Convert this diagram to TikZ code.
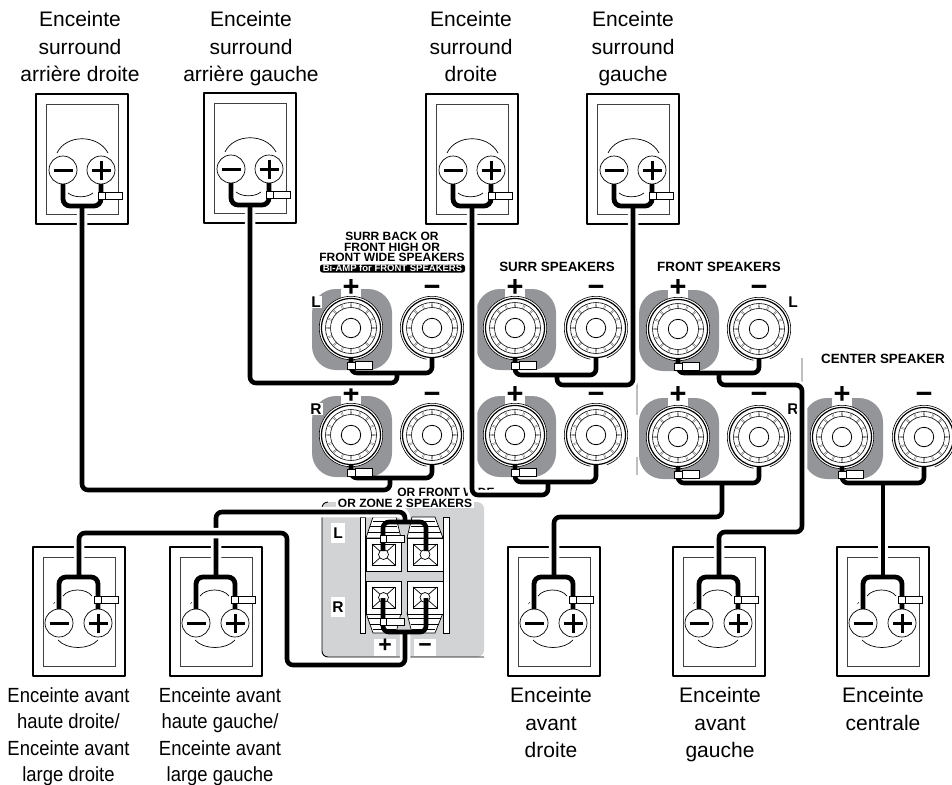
\documentclass[tikz,border=0pt]{standalone}
\usepackage{fontspec}
\setmainfont{Liberation Sans}
\newfontfamily\condfont[FakeStretch=0.9]{Liberation Sans}
\usetikzlibrary{calc}
\definecolor{postgray}{HTML}{939598}
\definecolor{panelgray}{HTML}{D1D3D4}
\tikzset{
  frameout/.style={line width=2.4pt,line join=round},
  frameinn/.style={line width=0.7pt,draw=black!75},
  thinline/.style={line width=0.7pt},
  wire/.style={line width=4.6pt,rounded corners=6pt},
  spkwire/.style={line width=4.8pt,rounded corners=7pt},
  cable/.style={line width=4.6pt,rounded corners=6pt,preaction={draw=white,line width=10.5pt}},
  spklabel/.style={align=center,anchor=north,inner sep=0pt,font=\fontsize{21}{27.5}\selectfont},
  labelcond/.style={align=center,anchor=north,inner sep=0pt,font=\fontsize{20.5}{26.3}\selectfont\condfont},
  head/.style={font=\fontsize{12}{10.5}\selectfont\bfseries,align=center,inner sep=0pt},
  headbig/.style={font=\fontsize{13.4}{13.4}\selectfont\bfseries,align=center,inner sep=0pt},
  sign/.style={font=\fontsize{29}{29}\selectfont\bfseries,inner sep=0pt},
  side/.style={font=\fontsize{15.5}{15.5}\selectfont\bfseries,fill=white,inner sep=1pt},
  panelbox/.style={font=\fontsize{23}{23}\selectfont\bfseries,fill=white,inner sep=0pt,minimum width=22pt,minimum height=17pt,text height=10pt,text depth=0pt},
  grayrule/.style={draw=black!25,line width=2pt},
}
% terminal disc with symbol
\newcommand{\termminus}[2]{\draw[fill=white,thinline] (#1,#2) circle (14);
  \draw[line width=3pt] (#1-9.5,#2)--(#1+9.5,#2);}
\newcommand{\termplus}[2]{\draw[fill=white,thinline] (#1,#2) circle (14);
  \draw[line width=3pt] (#1-9.5,#2)--(#1+9.5,#2) (#1,#2-9.5)--(#1,#2+9.5);}
% top speaker
\newcommand{\spktop}[3]{\begin{scope}[shift={(#2,#3)}]
  \draw[frameout] (0,0) rectangle (92,130);
  \draw[frameinn] (10,10) rectangle (82,120);
  \draw[thinline] (21,59) .. controls (30,40) and (62,40) .. (72,59);
  \draw[thinline] (32,99) .. controls (38,104) and (51,104) .. (57,99);
  \termminus{27}{76}\termplus{65}{76}
  \coordinate (#1-j) at (46,112);
  \end{scope}}
\newcommand{\spktopclip}[2]{\begin{scope}[shift={(#1,#2)}]
  \draw[fill=white,thinline] (69,98) rectangle (86,105);
  \draw[fill=white,thinline] (62,98) rectangle (69,105);
  \end{scope}}
% bottom speaker
\newcommand{\spkbot}[3]{\begin{scope}[shift={(#2,#3)}]
  \draw[frameout] (0,0) rectangle (92,129);
  \draw[frameinn] (10,10) rectangle (82,119);
  \draw[thinline] (30,49) .. controls (36,41) and (53,41) .. (59,49);
  \draw[thinline] (25,93) .. controls (34,103) and (56,103) .. (65,93);
  \draw[line width=0.4pt] (20.5,57)--(22,55) (70,55)--(71.5,57);
  \termminus{26}{76}\termplus{65}{76}
  \coordinate (#1-j) at (46,30);
  \end{scope}}
\newcommand{\spkbotclip}[2]{\begin{scope}[shift={(#1,#2)}]
  \draw[fill=white,thinline] (68,49) rectangle (85,56.5);
  \draw[fill=white,thinline] (61,49) rectangle (68,56.5);
  \end{scope}}
% binding post rings
\newcommand{\postrings}{%
  \draw[line width=1.2pt,fill=white] (0,0) circle (29.5);
  \draw[line width=0.6pt] (0,0) circle (25.5) circle (20.5);
  \draw[line width=0.8pt] (0,0) circle (9.7);
  \foreach \a in {0,22.5,...,337.5}{
    \draw[line width=0.3pt,draw=black!65] ({\a-1.6}:20.5)--({\a-1.6}:25.5) ({\a+1.6}:20.5)--({\a+1.6}:25.5);}
}
\newcommand{\postplus}[3]{\coordinate (#1) at (#2,#3);
  \begin{scope}[shift={(#2,#3)}]
  \fill[postgray,rounded corners=24pt] (-39,-39) rectangle (41,42);
  \fill[white] (-10,-42) rectangle (10,-25);
  \draw[line width=0.6pt,fill=white] (0,0) circle (31.7);
  \postrings
  \end{scope}}
\newcommand{\postminus}[3]{\coordinate (#1) at (#2,#3);
  \begin{scope}[shift={(#2,#3)}]
  \draw[line width=0.6pt] (100:31.7) arc (100:430:31.7);
  \postrings
  \end{scope}}
\newcommand{\pclip}[1]{\begin{scope}[shift={(#1)}]
  \draw[fill=white,thinline] (4,33.5) rectangle (21,41);
  \draw[fill=white,thinline] (-4,34) rectangle (4,41);
  \end{scope}}
\newcommand{\busline}[3]{\draw[wire] ($(#1)+(0,29)$) -- ($(#1)+(0,#3)$) -- ($(#2)+(0,#3)$) -- ($(#2)+(0,29)$);}
% panel terminals
\newcommand{\squarept}[4]{% left x, top y, width, height
  \draw[thinline,fill=white] (#1,#2) rectangle ++(#3,#4);
  \draw[thinline] (#1+6,#2+6) rectangle ++(#3-12,#4-12);
  \draw[thinline] (#1+6,#2+6) -- ++(#3-12,#4-12) (#1+#3-6,#2+6) -- ++(-#3+12,#4-12);
  \draw[thinline,fill=white] (#1+#3/2,#2+#4/2) circle (5);
}
\begin{document}
\begin{tikzpicture}[x=1pt,y=-1pt]
\useasboundingbox (0,0) rectangle (952,784);
% labels
\node[spklabel] (l1) at (80,11.5) {Enceinte\\surround\\arrière droite};
\node[spklabel] (l2) at (251,11.5) {Enceinte\\surround\\arrière gauche};
\node[spklabel] (l3) at (471,11.5) {Enceinte\\surround\\droite};
\node[spklabel] (l4) at (633,11.5) {Enceinte\\surround\\gauche};
\node[labelcond] (l5) at (68.5,687.5) {Enceinte avant\\haute droite/\\Enceinte avant\\large droite};
\node[labelcond] (l6) at (220,687.5) {Enceinte avant\\haute gauche/\\Enceinte avant\\large gauche};
\node[spklabel] (l7) at (551,687.5) {Enceinte\\avant\\droite};
\node[spklabel] (l8) at (720,687.5) {Enceinte\\avant\\gauche};
\node[spklabel] (l9) at (883,687.5) {Enceinte\\centrale};
% speakers
\spktop{t1}{36}{94}\spktop{t2}{204}{93}\spktop{t3}{426}{94}\spktop{t4}{587}{94}
\spkbot{b1}{33}{547}\spkbot{b2}{170}{547}\spkbot{b3}{508}{547}\spkbot{b4}{673}{547}\spkbot{b5}{837}{547}
% headers
\node[head] (h1) at (392,247) {SURR BACK OR\\FRONT HIGH OR\\FRONT WIDE SPEAKERS};
\node[head,fill=black,text=white,rounded corners=2.5pt,minimum width=145pt,minimum height=8pt,font=\fontsize{9.5}{9.5}\selectfont\bfseries] (h1b) at (392.5,268.5) {Bi-AMP for FRONT SPEAKERS};
\node[headbig] (h2) at (557,267) {SURR SPEAKERS};
\node[headbig] (h3) at (719,267) {FRONT SPEAKERS};
\node[headbig] (h4) at (883,359) {CENTER SPEAKER};
% gray marks
\draw[grayrule] (637,382)--(637,415) (637,457)--(637,475) (802,358)--(802,382);
% posts
\postplus{pA}{351}{328}\postminus{mA}{432}{328}
\postplus{pB}{351}{435}\postminus{mB}{432}{435}
\postplus{pC}{515}{328}\postminus{mC}{596}{328}
\postplus{pD}{515}{435}\postminus{mD}{596}{435}
\postplus{pE}{678}{329}\postminus{mE}{759}{329}
\postplus{pF}{678}{437}\postminus{mF}{759}{437}
\postplus{pG}{842}{437}\postminus{mG}{924}{437}
% signs
\foreach \n/\x/\y in {a/351/288,b/351/395,c/515/288,d/515/395,e/678/288,f/678/395,g/842/395}
  \node[sign] (s\n) at (\x,\y) {+};
\foreach \n/\x/\y in {a/432/291,b/432/398,c/596/291,d/596/398,e/759/291,f/759/398,g/924/398}
  \node[sign] (n\n) at (\x,\y) {−};
\node[side] (sl1) at (316,302) {L};
\node[side] (sr1) at (316,409) {R};
\node[side] (sl2) at (793,302) {L};
\node[side] (sr2) at (793,409) {R};
% panel
\fill[panelgray,rounded corners=7pt] (322,502) rectangle (484,657);
\draw[line width=0.9pt,rounded corners=6pt] (328,502) -- (322,502) -- (322,657) -- (484,657);
\node[head,fill=white,inner xsep=2pt,inner ysep=1pt] (z1) at (446,492) {OR FRONT WIDE};
\node[head,fill=white,inner xsep=2pt,inner ysep=1pt] (z2) at (405,503) {OR ZONE 2 SPEAKERS};
\node[side,minimum width=14pt,minimum height=20pt,inner sep=0pt] (zl) at (338,533) {L};
\node[side,minimum width=14pt,minimum height=20pt,inner sep=0pt] (zr) at (338,607) {R};
\node[panelbox] (zp) at (385,647) {+};
\node[panelbox] (zm) at (425,647) {−};
\draw[thinline,fill=white] (360,517) rectangle (365,633) (443.5,517) rectangle (449,633);
% panel trapezoids
\foreach \xa/\xb/\xc/\xd in {366/373/396/401,407/412/435/443}{
  \draw[thinline,fill=white] (\xa,538) -- (\xb,517) -- (\xc,517) -- (\xd,538) -- cycle;
  \draw[line width=0.4pt] (\xa+2,532) -- (\xd-2,532) (\xa+4,526) -- (\xd-4,526) (\xb,521) -- (\xc,521);
  \draw[thinline,fill=white] (\xa,613) -- (\xb,633) -- (\xc,633) -- (\xd,613) -- cycle;
  \draw[line width=0.4pt] (\xa+2,618) -- (\xd-2,618) (\xa+4,624) -- (\xd-4,624) (\xb,629) -- (\xc,629);
}
\squarept{366}{538}{35}{33}\squarept{407}{538}{36}{33}
\squarept{366}{581}{35}{33}\squarept{407}{581}{36}{33}
\coordinate (zLa) at (383,551);\coordinate (zLb) at (426,551);
\coordinate (zRa) at (383,598);\coordinate (zRb) at (426,598);
\coordinate (zLj) at (405,522);\coordinate (zRj) at (405,632);
% routes
\draw[cable] (t1-j) |- (390,490) -- (390,478);
\draw[cable] (t2-j) |- (397,383) -- (397,373);
\draw[cable] (t3-j) |- (548,495) -- (548,483);
\draw[cable] (t4-j) |- (557,385) -- (557,375);
\draw[cable] (b3-j) |- (722,517) -- (722,483);
\draw[cable] (b4-j) |- (802,532) -- (802,385) -- (719,385) -- (719,373);
\draw[cable] (b5-j) -- (883,483);
\draw[cable] (b2-j) |- (405,512) -- (zLj);
\draw[cable] (b1-j) |- (287,533) -- (287,665) -- (405,665) -- (zRj);
% speaker wiring on top of route halos
\foreach \x/\y in {36/94,204/93,426/94,587/94}
  \draw[spkwire] (\x+27,\y+90) -- (\x+27,\y+112) -- (\x+65,\y+112) -- (\x+65,\y+90);
\foreach \x in {33,170,508,673,837}
  \draw[spkwire] (\x+26,547+62) -- (\x+26,547+30) -- (\x+65,547+30) -- (\x+65,547+62);
% buses
\busline{pA}{mA}{45}\busline{pB}{mB}{43}
\busline{pC}{mC}{47}\busline{pD}{mD}{47}
\busline{pE}{mE}{44}\busline{pF}{mF}{46}\busline{pG}{mG}{46}
% panel jumpers
\draw[wire] (zLa) -- (383,522) -- (426,522) -- (zLb);
\draw[wire] (zRa) -- (383,632) -- (426,632) -- (zRb);
\foreach \y in {535,618}{
  \draw[fill=white,thinline] (386,\y) rectangle (404,\y+7);
  \draw[fill=white,thinline] (380,\y) rectangle (386,\y+7);
}
% clips
\spktopclip{36}{94}\spktopclip{204}{93}\spktopclip{426}{94}\spktopclip{587}{94}
\spkbotclip{33}{547}\spkbotclip{170}{547}\spkbotclip{508}{547}\spkbotclip{673}{547}\spkbotclip{837}{547}
\pclip{pA}\pclip{pB}\pclip{pC}\pclip{pD}\pclip{pE}\pclip{pF}\pclip{pG}
\end{tikzpicture}
\end{document}
